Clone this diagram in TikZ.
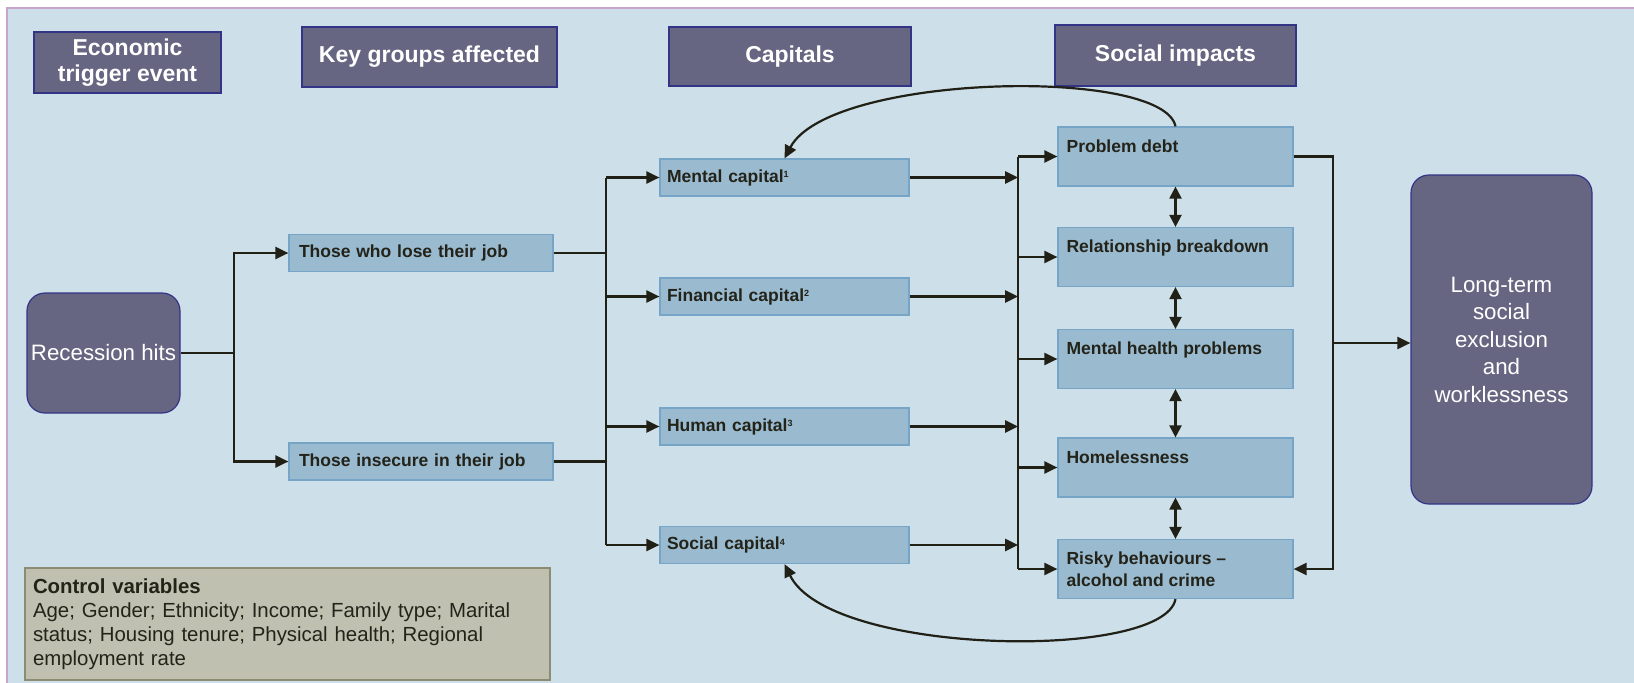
\documentclass[tikz,border=0pt]{standalone}
\usepackage{fontspec}
\setmainfont{Liberation Sans}
\usetikzlibrary{arrows.meta}
\definecolor{bgblue}{RGB}{205,223,232}
\definecolor{frameline}{RGB}{200,165,205}
\definecolor{hdfill}{RGB}{102,102,130}
\definecolor{hdline}{RGB}{52,52,135}
\definecolor{boxfill}{RGB}{153,186,207}
\definecolor{boxline}{RGB}{118,165,200}
\definecolor{ctrlfill}{RGB}{192,192,176}
\definecolor{ctrlline}{RGB}{140,140,115}
\definecolor{linecol}{RGB}{32,32,22}
\definecolor{txt}{RGB}{35,35,25}
\newcommand{\supnum}[1]{\raisebox{4.5pt}{\fontsize{9}{9}\selectfont #1}}
\tikzset{
	head/.style={draw=hdline, fill=hdfill, line width=1.2pt, text=white, align=center, inner sep=0pt,
		font=\fontsize{23}{26}\selectfont\bfseries},
	bigbox/.style={draw=hdline, fill=hdfill, line width=1.2pt, rounded corners=18pt, text=white, align=center,
		inner sep=0pt, font=\fontsize{22.3}{27.5}\selectfont},
	capbox/.style={draw=boxline, fill=boxfill, line width=1.2pt, text=txt, align=left, inner ysep=0pt,
		minimum height=37pt, font=\fontsize{17.5}{22}\selectfont\bfseries},
	impbox/.style={draw=boxline, fill=boxfill, line width=1.2pt, minimum width=235pt, minimum height=59pt},
	imptxt/.style={anchor=north west, xshift=9pt, yshift=-13pt, inner sep=0pt, text=txt, align=left,
		font=\fontsize{17.5}{22}\selectfont\bfseries},
	ctrlbox/.style={draw=ctrlline, fill=ctrlfill, line width=1.2pt, text=txt, align=left, inner xsep=8pt,
		text width=509pt, minimum height=112pt, font=\fontsize{20.4}{24}\selectfont},
	conn/.style={draw=linecol, line width=2.2pt},
	arr/.style={conn, -{Triangle[length=13pt,width=12pt]}},
	arrs/.style={conn, {Triangle[length=12pt,width=12pt]}-{Triangle[length=12pt,width=12pt]}}
}
\begin{document}
\begin{tikzpicture}[x=1pt,y=-1pt]
	\useasboundingbox (0,0) rectangle (1634,683);
	\fill[white] (0,0) rectangle (1634,683);
	\fill[bgblue] (7,8) rectangle (1634,683);
	\draw[frameline, line width=1.5pt] (7,683) -- (7,8) -- (1634,8);

	\draw
	node[head, minimum width=187pt, minimum height=61pt] at (127.5,62.5) (trig) {Economic\\trigger event}
	node[head, minimum width=255pt, minimum height=60pt] at (429.5,57) (grp) {Key groups affected}
	node[head, minimum width=242pt, minimum height=59pt] at (790,56.5) (caps) {Capitals}
	node[head, minimum width=241pt, minimum height=61pt] at (1175.5,55.5) (imps) {Social impacts}

	node[bigbox, minimum width=153pt, minimum height=120pt] at (103.5,353) (rec) {Recession hits}

	node[capbox, inner xsep=10pt, text width=244pt] at (421,253) (lose) {Those who lose their job}
	node[capbox, inner xsep=10pt, text width=244pt] at (421,461.5) (insec) {Those insecure in their job}

	node[capbox, inner xsep=7pt, text width=235pt] at (784.5,177.5) (mcap) {Mental capital\supnum{1}}
	node[capbox, inner xsep=7pt, text width=235pt] at (784.5,296.5) (fcap) {Financial capital\supnum{2}}
	node[capbox, inner xsep=7pt, text width=235pt] at (784.5,426.5) (hcap) {Human capital\supnum{3}}
	node[capbox, inner xsep=7pt, text width=235pt] at (784.5,545) (scap) {Social capital\supnum{4}}

	node[impbox, label={[imptxt]north west:Problem debt}] at (1175.5,156.5) (debt) {}
	node[impbox, label={[imptxt]north west:Relationship breakdown}] at (1175.5,257) (rel) {}
	node[impbox, label={[imptxt]north west:Mental health problems}] at (1175.5,359) (mhp) {}
	node[impbox, label={[imptxt]north west:Homelessness}] at (1175.5,467.5) (home) {}
	node[impbox, label={[imptxt]north west:Risky behaviours \textendash\\alcohol and crime}] at (1175.5,569) (risky) {}

	node[bigbox, minimum width=181pt, minimum height=329pt] at (1501.5,339.5) (ltse) {Long-term\\social\\exclusion\\and\\worklessness}

	node[ctrlbox] at (287.5,624) (ctrl) {\textbf{Control variables}\\Age; Gender; Ethnicity; Income; Family type; Marital\\status; Housing tenure; Physical health; Regional\\employment rate}
	;

	\coordinate (jl) at (234,353);
	\coordinate (jm) at (606,353);
	\coordinate (jr) at (1018,353);
	\coordinate (jf) at (1333,343);

	\draw[conn] (rec) -- (jl);
	\draw[arr] (jl) |- (lose);
	\draw[arr] (jl) |- (insec);

	\draw[conn] (lose) -- (lose -| jm);
	\draw[conn] (insec) -- (insec -| jm);
	\draw[conn] (mcap -| jm) -- (scap -| jm);
	\draw[arr] (mcap -| jm) -- (mcap);
	\draw[arr] (fcap -| jm) -- (fcap);
	\draw[arr] (hcap -| jm) -- (hcap);
	\draw[arr] (scap -| jm) -- (scap);

	\draw[arr, line width=2.7pt] (mcap) -- (mcap -| jr);
	\draw[arr, line width=2.7pt] (fcap) -- (fcap -| jr);
	\draw[arr, line width=2.7pt] (hcap) -- (hcap -| jr);
	\draw[arr, line width=2.7pt] (scap) -- (scap -| jr);
	\draw[conn] (debt -| jr) -- (risky -| jr);
	\draw[arr] (debt -| jr) -- (debt);
	\draw[arr] (rel -| jr) -- (rel);
	\draw[arr] (mhp -| jr) -- (mhp);
	\draw[arr] (home -| jr) -- (home);
	\draw[arr] (risky -| jr) -- (risky);

	\draw[arrs] (debt) -- (rel);
	\draw[arrs] (rel) -- (mhp);
	\draw[arrs] (mhp) -- (home);
	\draw[arrs] (home) -- (risky);

	\draw[arr] (debt) -| (jf) |- (risky);
	\draw[arr] (jf) -- (jf -| ltse.west);

	\draw[arr] (debt.north) .. controls +(-12,-60) and +(45,-85) .. (mcap.north);
	\draw[arr] (risky.south) .. controls +(-12,62) and +(45,92) .. (scap.south);
\end{tikzpicture}
\end{document}
